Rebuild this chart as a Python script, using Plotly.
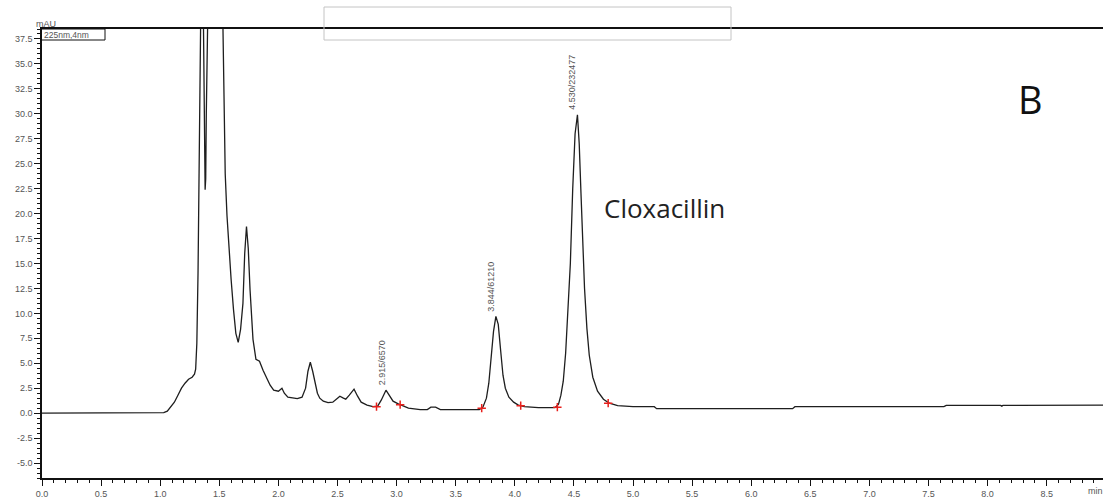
import plotly.graph_objects as go

# Chromatogram trace: retention time (min) and absorbance (mAU)
time_min = [
    0.00, 1.00, 1.03, 1.06, 1.09, 1.12, 1.15, 1.18, 1.21, 1.24, 1.27, 1.29,
    1.30, 1.31, 1.32, 1.33, 1.34, 1.35, 1.36, 1.37, 1.38, 1.385, 1.39, 1.40,
    1.43, 1.46, 1.49, 1.52, 1.535, 1.55, 1.565, 1.58, 1.60, 1.62, 1.64, 1.66,
    1.68, 1.70, 1.715, 1.73, 1.745, 1.76, 1.785, 1.81, 1.84, 1.87, 1.90, 1.93,
    1.96, 2.00, 2.03, 2.05, 2.08, 2.12, 2.16, 2.20, 2.23, 2.25, 2.27, 2.29,
    2.31, 2.33, 2.35, 2.38, 2.42, 2.46, 2.50, 2.52, 2.55, 2.57, 2.60, 2.64,
    2.67, 2.70, 2.75, 2.80, 2.84, 2.87, 2.91, 2.94, 2.97, 3.01, 3.05, 3.10,
    3.20, 3.26, 3.29, 3.33, 3.37, 3.50, 3.70, 3.73, 3.76, 3.78, 3.80, 3.82,
    3.84, 3.86, 3.88, 3.90, 3.92, 3.95, 3.99, 4.03, 4.08, 4.20, 4.34, 4.37,
    4.39, 4.41, 4.43, 4.45, 4.47, 4.49, 4.51, 4.53, 4.545, 4.56, 4.575, 4.59,
    4.61, 4.63, 4.66, 4.70, 4.75, 4.80, 4.87, 5.00, 5.18, 5.20, 6.35, 6.37,
    7.63, 7.65, 8.11, 8.12, 8.13, 8.98,
]
absorbance_mau = [
    0.0, 0.0, 0.05, 0.2, 0.6, 1.1, 1.8, 2.5, 3.0, 3.4, 3.6, 3.9,
    4.4, 7.0, 14.0, 26.0, 40.0, 48.0, 46.0, 34.0, 22.4, 23.5, 30.0, 40.0,
    70.0, 85.0, 70.0, 45.0, 32.0, 24.0, 19.8, 16.5, 13.4, 10.4, 8.0, 7.1,
    8.4, 11.0, 16.0, 18.7, 16.5, 12.4, 7.4, 5.4, 5.2, 4.3, 3.5, 2.8,
    2.3, 2.2, 2.5, 2.0, 1.6, 1.5, 1.45, 1.6, 2.5, 4.2, 5.1, 4.2,
    3.0, 2.0, 1.5, 1.2, 1.05, 1.1, 1.5, 1.7, 1.5, 1.4, 1.8, 2.4,
    1.7, 1.1, 0.8, 0.65, 0.7, 1.3, 2.3, 1.8, 1.2, 0.95, 0.75, 0.5,
    0.35, 0.35, 0.6, 0.6, 0.35, 0.35, 0.35, 0.6, 1.5, 3.0, 5.5, 8.2,
    9.7, 8.9, 6.3, 3.8, 2.5, 1.6, 1.1, 0.8, 0.65, 0.55, 0.55, 0.9,
    1.8, 3.2, 6.0, 10.0, 15.0, 22.5, 28.0, 29.9, 27.0, 22.0, 16.0, 12.5,
    8.5, 5.8, 3.6, 2.2, 1.4, 1.0, 0.75, 0.65, 0.65, 0.45, 0.45, 0.65,
    0.65, 0.78, 0.78, 0.7, 0.78, 0.8,
]

# Labelled peaks: retention time, apex height, "time/area" label
peak_times = [2.915, 3.844, 4.530]
peak_heights = [2.3, 9.7, 29.9]
peak_labels = ["2.915/6570", "3.844/61210", "4.530/232477"]

# Integration start/end markers
marker_times = [2.83, 3.03, 3.72, 4.05, 4.36, 4.79]
marker_values = [0.65, 0.85, 0.5, 0.75, 0.6, 1.0]

# Axis ticks
x_ticks = [0.0, 0.5, 1.0, 1.5, 2.0, 2.5, 3.0, 3.5, 4.0, 4.5,
           5.0, 5.5, 6.0, 6.5, 7.0, 7.5, 8.0, 8.5]
y_ticks = [-5.0, -2.5, 0.0, 2.5, 5.0, 7.5, 10.0, 12.5, 15.0, 17.5,
           20.0, 22.5, 25.0, 27.5, 30.0, 32.5, 35.0, 37.5]

W, H = 1103, 499
PL, PR, PT, PB = 42, 1103, 29, 478


def px_x(p):
    return (p - PL) / (PR - PL)


def px_y(p):
    return (PB - p) / (PB - PT)


TICK_FONT = dict(family="Liberation Sans, Arial, sans-serif", size=9, color="#555555")

fig = go.Figure()

fig.add_trace(go.Scatter(
    x=time_min, y=absorbance_mau, mode="lines",
    line=dict(color="#1e1e1e", width=1.3),
    hoverinfo="skip", showlegend=False,
))

fig.add_trace(go.Scatter(
    x=marker_times, y=marker_values, mode="markers",
    marker=dict(symbol="cross-thin", size=6, line=dict(color="#e8201c", width=1.5)),
    hoverinfo="skip", showlegend=False,
))

annotations = []
for t, h, lab in zip(peak_times, peak_heights, peak_labels):
    annotations.append(dict(
        x=t, y=h, xref="x", yref="y", text=lab, showarrow=False,
        textangle=-90, xanchor="center", yanchor="bottom",
        xshift=-5, yshift=3, font=TICK_FONT,
    ))

annotations += [
    dict(x=px_x(46), y=px_y(24), xref="paper", yref="paper", text="mAU",
         showarrow=False, xanchor="center", yanchor="middle", font=TICK_FONT),
    dict(x=px_x(42), y=px_y(34.5), xref="paper", yref="paper", text="225nm,4nm",
         showarrow=False, xanchor="left", yanchor="middle",
         font=dict(family="Liberation Sans, Arial, sans-serif", size=8.5, color="#555555")),
    dict(x=px_x(1086), y=px_y(491), xref="paper", yref="paper", text="min",
         showarrow=False, xanchor="left", yanchor="middle", font=TICK_FONT),
    dict(x=px_x(1030), y=px_y(99), xref="paper", yref="paper", text="B",
         showarrow=False, xanchor="center", yanchor="middle",
         font=dict(family="Open Sans, sans-serif", size=38, color="#111111")),
    dict(x=px_x(602), y=px_y(208), xref="paper", yref="paper", text="Cloxacillin",
         showarrow=False, xanchor="left", yanchor="middle",
         font=dict(family="Open Sans, sans-serif", size=26, color="#222222")),
]

shapes = [
    dict(type="rect", xref="paper", yref="paper",
         x0=px_x(41), x1=px_x(105), y0=px_y(40), y1=px_y(29),
         line=dict(color="#111111", width=1)),
    dict(type="rect", xref="paper", yref="paper",
         x0=px_x(324), x1=px_x(731), y0=px_y(40), y1=px_y(7),
         line=dict(color="#c4c4c4", width=1)),
]

fig.update_layout(
    width=W, height=H,
    margin=dict(l=PL, r=W - PR, t=PT, b=H - PB),
    paper_bgcolor="white", plot_bgcolor="white",
    annotations=annotations, shapes=shapes,
    showlegend=False,
)

fig.update_xaxes(
    range=[0, (PR - PL) / 118.2],
    tickmode="array", tickvals=x_ticks, ticktext=[f"{v:.1f}" for v in x_ticks],
    ticks="outside", ticklen=6, tickwidth=1, tickcolor="#111111",
    minor=dict(tick0=0, dtick=0.1, ticks="outside", ticklen=3, tickcolor="#111111"),
    showgrid=False, zeroline=False,
    showline=True, linecolor="#111111", linewidth=1.5, mirror=True,
    tickfont=TICK_FONT,
)

fig.update_yaxes(
    range=[-6.5, 38.5],
    tickmode="array", tickvals=y_ticks, ticktext=[f"{v:.1f}" for v in y_ticks],
    ticks="outside", ticklen=6, tickwidth=1, tickcolor="#111111",
    minor=dict(tick0=0, dtick=0.5, ticks="outside", ticklen=3, tickcolor="#111111"),
    showgrid=False, zeroline=False,
    showline=True, linecolor="#111111", linewidth=1.5,
    tickfont=TICK_FONT,
)

fig.write_html("out.html")
